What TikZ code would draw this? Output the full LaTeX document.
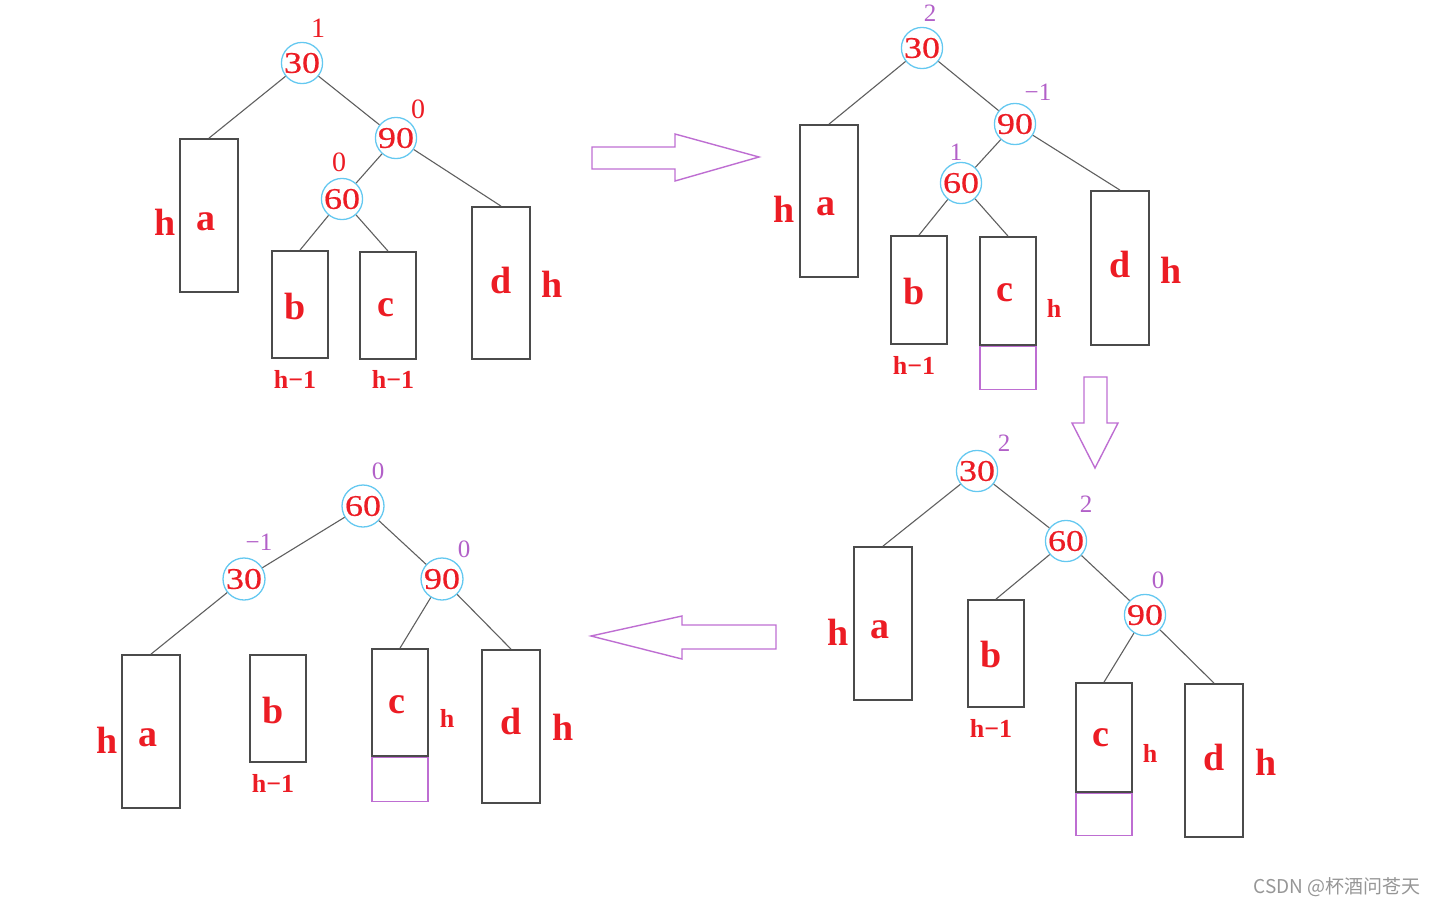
\documentclass[tikz,border=0pt]{standalone}
\usepackage{fontspec}
\setmainfont{Liberation Serif}
\newfontfamily\widefont[FakeStretch=1.2,FakeBold=0.6]{Liberation Serif}
\newfontfamily\cjkfont{Noto Sans CJK SC}
\definecolor{tred}{RGB}{236,28,36}
\definecolor{tpur}{RGB}{178,96,200}
\definecolor{tcyan}{RGB}{100,200,240}
\definecolor{tbox}{RGB}{75,75,75}
\definecolor{tedge}{RGB}{95,95,95}
\definecolor{tarrow}{RGB}{190,110,210}
\definecolor{twm}{RGB}{150,150,150}
\tikzset{
 keynode/.style={circle, draw=tcyan, line width=1.3pt, minimum size=40pt, inner sep=0pt, text=tred, font=\widefont\fontsize{30}{32}\selectfont},
 treebox/.style={rectangle, draw=tbox, line width=1.8pt, inner sep=0pt, minimum width=58pt},
 extbox/.style={rectangle, draw=tarrow, line width=1.3pt, inner sep=0pt, minimum width=56pt, anchor=north},
 letter/.style={text=tred, font=\bfseries\fontsize{38}{40}\selectfont, inner sep=0pt},
 hlab/.style={text=tred, font=\bfseries\fontsize{38}{40}\selectfont, inner sep=0pt},
 hsmall/.style={text=tred, font=\bfseries\fontsize{26}{28}\selectfont, inner sep=0pt},
 sublab/.style={text=tred, font=\bfseries\fontsize{26}{28}\selectfont, inner sep=0pt},
 balred/.style={text=tred, font=\fontsize{28}{30}\selectfont, inner sep=0pt},
 balpur/.style={text=tpur, font=\fontsize{25}{27}\selectfont, inner sep=0pt},
 treeedge/.style={draw=tedge, line width=1.1pt},
 hollowarrow/.style={draw=tarrow, line width=1.4pt, line join=miter},
}
\begin{document}
\begin{tikzpicture}[x=1pt,y=-1pt]
\useasboundingbox (0,0) rectangle (1438,906);
% ---------- Q1 ----------
\node[treebox, minimum height=153pt] (Aa) at (209,215.5) {};
\node[treebox, minimum width=56pt, minimum height=107pt] (Ab) at (300,304.5) {};
\node[treebox, minimum width=56pt, minimum height=107pt] (Ac) at (388,305.5) {};
\node[treebox, minimum height=152pt] (Ad) at (501,283) {};
\node[letter] (Aal) at (206,222) {a};
\node[letter] (Abl) at (295,306) {b};
\node[letter] (Acl) at (386,308) {c};
\node[letter] (Adl) at (501,280) {d};
\node[keynode] (A30) at (302,63) {30};
\node[keynode] (A90) at (396,138) {90};
\node[keynode] (A60) at (342,199) {60};
\node[balred] (A30b) at (318,28) {1};
\node[balred] (A90b) at (418,109) {0};
\node[balred] (A60b) at (339,162) {0};
\node[hlab] (Aah) at (165,222) {h};
\node[sublab] (Abh) at (295,379) {h−1};
\node[sublab] (Ach) at (393,379) {h−1};
\node[hlab] (Adh) at (552,284) {h};
\draw[treeedge] (A30) -- (Aa.north);
\draw[treeedge] (A30) -- (A90);
\draw[treeedge] (A90) -- (A60);
\draw[treeedge] (A90) -- (Ad.north);
\draw[treeedge] (A60) -- (Ab.north);
\draw[treeedge] (A60) -- (Ac.north);
% ---------- Q2 ----------
\node[treebox, minimum height=152pt] (Ba) at (829,201) {};
\node[treebox, minimum width=56pt, minimum height=108pt] (Bb) at (919,290) {};
\node[treebox, minimum width=56pt, minimum height=108pt] (Bc) at (1008,291) {};
\node[extbox, minimum height=43pt] (Bx) at (Bc.south) {};
\node[treebox, minimum height=154pt] (Bd) at (1120,268) {};
\node[letter] (Bal) at (826,207) {a};
\node[letter] (Bbl) at (914,291) {b};
\node[letter] (Bcl) at (1005,293) {c};
\node[letter] (Bdl) at (1120,264) {d};
\node[keynode] (B30) at (922,48) {30};
\node[keynode] (B90) at (1015,124) {90};
\node[keynode] (B60) at (961,183) {60};
\node[balpur] (B30b) at (930,13) {2};
\node[balpur] (B90b) at (1038,92) {−1};
\node[balpur] (B60b) at (956,152) {1};
\node[hlab] (Bah) at (784,209) {h};
\node[sublab] (Bbh) at (914,365) {h−1};
\node[hsmall] (Bch) at (1054,308) {h};
\node[hlab] (Bdh) at (1171,270) {h};
\draw[treeedge] (B30) -- (Ba.north);
\draw[treeedge] (B30) -- (B90);
\draw[treeedge] (B90) -- (B60);
\draw[treeedge] (B90) -- (Bd.north);
\draw[treeedge] (B60) -- (Bb.north);
\draw[treeedge] (B60) -- (Bc.north);
% ---------- Q3 ----------
\node[treebox, minimum height=153pt] (Ca) at (883,623.5) {};
\node[treebox, minimum width=56pt, minimum height=107pt] (Cb) at (996,653.5) {};
\node[treebox, minimum width=56pt, minimum height=109pt] (Cc) at (1104,737.5) {};
\node[extbox, minimum height=42pt] (Cx) at (Cc.south) {};
\node[treebox, minimum height=153pt] (Cd) at (1214,760.5) {};
\node[letter] (Cal) at (880,630) {a};
\node[letter] (Cbl) at (991,654) {b};
\node[letter] (Ccl) at (1101,738) {c};
\node[letter] (Cdl) at (1214,757) {d};
\node[keynode] (C30) at (977,471) {30};
\node[keynode] (C60) at (1066,541) {60};
\node[keynode] (C90) at (1145,615) {90};
\node[balpur] (C30b) at (1004,443) {2};
\node[balpur] (C60b) at (1086,504) {2};
\node[balpur] (C90b) at (1158,580) {0};
\node[hlab] (Cah) at (838,632) {h};
\node[sublab] (Cbh) at (991,728) {h−1};
\node[hsmall] (Cch) at (1150,753) {h};
\node[hlab] (Cdh) at (1266,762) {h};
\draw[treeedge] (C30) -- (Ca.north);
\draw[treeedge] (C30) -- (C60);
\draw[treeedge] (C60) -- (Cb.north);
\draw[treeedge] (C60) -- (C90);
\draw[treeedge] (C90) -- (Cc.north);
\draw[treeedge] (C90) -- (Cd.north);
% ---------- Q4 ----------
\node[treebox, minimum height=153pt] (Da) at (151,731.5) {};
\node[treebox, minimum width=56pt, minimum height=107pt] (Db) at (278,708.5) {};
\node[treebox, minimum width=56pt, minimum height=107pt] (Dc) at (400,702.5) {};
\node[extbox, minimum height=44pt] (Dx) at (Dc.south) {};
\node[treebox, minimum height=153pt] (Dd) at (511,726.5) {};
\node[letter] (Dal) at (148,738) {a};
\node[letter] (Dbl) at (273,710) {b};
\node[letter] (Dcl) at (397,705) {c};
\node[letter] (Ddl) at (511,721) {d};
\node[keynode, minimum size=42pt] (D60) at (363,506) {60};
\node[keynode, minimum size=42pt] (D30) at (244,579) {30};
\node[keynode, minimum size=42pt] (D90) at (442,579) {90};
\node[balpur] (D60b) at (378,471) {0};
\node[balpur] (D30b) at (259,542) {−1};
\node[balpur] (D90b) at (464,549) {0};
\node[hlab] (Dah) at (107,740) {h};
\node[sublab] (Dbh) at (273,783) {h−1};
\node[hsmall] (Dch) at (447,718) {h};
\node[hlab] (Ddh) at (563,727) {h};
\draw[treeedge] (D60) -- (D30);
\draw[treeedge] (D60) -- (D90);
\draw[treeedge] (D30) -- (Da.north);
\draw[treeedge] (D90) -- (Dc.north);
\draw[treeedge] (D90) -- (Dd.north);
% ---------- hollow arrows ----------
\draw[hollowarrow] (592,147) -- (675,147) -- (675,134) -- (759,157) -- (675,181) -- (675,169) -- (592,169) -- cycle;
\draw[hollowarrow] (1084,377) -- (1107,377) -- (1107,423) -- (1118,423) -- (1095,468) -- (1072,423) -- (1084,423) -- cycle;
\draw[hollowarrow] (776,625) -- (682,625) -- (682,616) -- (591,636) -- (682,659) -- (682,649) -- (776,649) -- cycle;
% ---------- watermark ----------
\node[text=twm, font=\cjkfont\fontsize{19}{21}\selectfont, inner sep=0pt] (wm) at (1337,887) {CSDN @杯酒问苍天};
\end{tikzpicture}
\end{document}
